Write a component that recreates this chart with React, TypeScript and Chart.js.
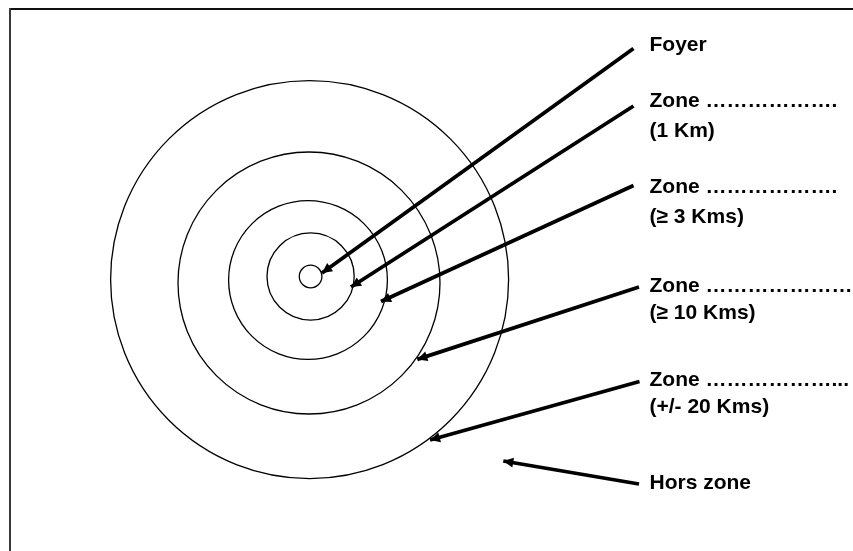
import React, { useEffect, useRef } from "react";
import { Chart, registerables } from "chart.js";

Chart.register(...registerables);

// Diagram units: origin at the centre of the target, y pointing up.
const ringRadii = [11.3, 43.6, 79.4, 131, 199];
const ringCenterX = [0.6, 0.6, -2, -1, -0.4];
const ringCenterY = [1.5, 1.5, -2, -5, -1.6];

const zoneLabels = [
  "Foyer",
  "Zone \u2026\u2026\u2026\u2026\u2026\u2026.",
  "Zone \u2026\u2026\u2026\u2026\u2026\u2026.",
  "Zone \u2026\u2026\u2026\u2026\u2026\u2026\u2026",
  "Zone \u2026\u2026\u2026\u2026\u2026\u2026...",
  "Hors zone",
];
const zoneSubLabels = ["", "(1 Km)", "(\u2265 3 Kms)", "(\u2265 10 Kms)", "(+/- 20 Kms)", ""];

const arrowFromX = [323.5, 323.5, 323.5, 329, 329.5, 329];
const arrowFromY = [229.5, 172, 92.5, -9, -103.5, -206];
const arrowToX = [12, 41, 71, 107.3, 120, 193.3];
const arrowToY = [5, -9, -23.6, -81.4, -162, -183];

const labelX = 339.5;
const labelY = [227, 170.7, 85.3, -14.3, -108, -211];
const subLabelY = [0, 141.3, 55.4, -41.3, -135.3, 0];

const X_MIN = -310;
const X_MAX = 543;
const Y_MIN = -273;
const Y_MAX = 278;

const FONT = 'bold 21px "Liberation Sans", Arial, sans-serif';

const framePlugin = {
  id: "frame",
  beforeDraw(chart: any) {
    const { ctx, width, height } = chart;
    ctx.save();
    ctx.fillStyle = "#ffffff";
    ctx.fillRect(0, 0, width, height);
    ctx.fillStyle = "#111111";
    ctx.fillRect(9, 8, width - 9, 2);
    ctx.fillStyle = "#3a3a3a";
    ctx.fillRect(9, 8, 2, height - 8);
    ctx.restore();
  },
};

const arrowHeadPlugin = {
  id: "arrowHeads",
  afterDatasetsDraw(chart: any) {
    const { ctx } = chart;
    ctx.save();
    chart.data.datasets.forEach((ds: any, i: number) => {
      if (!ds.isArrow) return;
      const meta = chart.getDatasetMeta(i);
      const p0 = meta.data[0];
      const p1 = meta.data[1];
      const ang = Math.atan2(p1.y - p0.y, p1.x - p0.x);
      const len = 10;
      const half = 5;
      ctx.fillStyle = "#000";
      ctx.beginPath();
      ctx.moveTo(p1.x, p1.y);
      ctx.lineTo(
        p1.x - len * Math.cos(ang) + half * Math.sin(ang),
        p1.y - len * Math.sin(ang) - half * Math.cos(ang)
      );
      ctx.lineTo(
        p1.x - len * Math.cos(ang) - half * Math.sin(ang),
        p1.y - len * Math.sin(ang) + half * Math.cos(ang)
      );
      ctx.closePath();
      ctx.fill();
    });
    ctx.restore();
  },
};

const labelPlugin = {
  id: "zoneLabels",
  afterDraw(chart: any) {
    const { ctx } = chart;
    const xs = chart.scales.x;
    const ys = chart.scales.y;
    ctx.save();
    ctx.font = FONT;
    ctx.fillStyle = "#000";
    ctx.textBaseline = "alphabetic";
    ctx.textAlign = "left";
    const x = xs.getPixelForValue(labelX);
    zoneLabels.forEach((t, i) => {
      ctx.fillText(t, x, ys.getPixelForValue(labelY[i]));
      if (zoneSubLabels[i]) {
        ctx.fillText(zoneSubLabels[i], x, ys.getPixelForValue(subLabelY[i]));
      }
    });
    ctx.restore();
  },
};

export default function App() {
  const ref = useRef<HTMLCanvasElement | null>(null);

  useEffect(() => {
    if (!ref.current) return;
    const ringRadiusPx = (c: any) => {
      const s = c.chart.scales.x;
      return s.getPixelForValue(ringRadii[c.dataIndex]) - s.getPixelForValue(0);
    };
    const ringDataset: any = {
      type: "scatter",
      data: ringRadii.map((_, i) => ({ x: ringCenterX[i], y: ringCenterY[i] })),
      pointStyle: "circle",
      pointBackgroundColor: "rgba(0,0,0,0)",
      pointBorderColor: "#000",
      pointBorderWidth: 1.3,
      pointRadius: ringRadiusPx,
      pointHoverRadius: ringRadiusPx,
      showLine: false,
      clip: false,
    };
    const arrowDatasets: any[] = arrowFromX.map((_, i) => ({
      type: "line",
      isArrow: true,
      data: [
        { x: arrowFromX[i], y: arrowFromY[i] },
        { x: arrowToX[i], y: arrowToY[i] },
      ],
      borderColor: "#000",
      borderWidth: 3.8,
      borderCapStyle: "butt",
      pointRadius: 0,
      pointHoverRadius: 0,
      fill: false,
      tension: 0,
      clip: false,
    }));

    const chart = new Chart(ref.current, {
      type: "scatter",
      data: { datasets: [ringDataset, ...arrowDatasets] },
      options: {
        animation: false,
        responsive: false,
        devicePixelRatio: 1,
        events: [],
        layout: { padding: 0 },
        plugins: {
          legend: { display: false },
          tooltip: { enabled: false },
          title: { display: false },
        },
        scales: {
          x: { type: "linear", min: X_MIN, max: X_MAX, display: false },
          y: { type: "linear", min: Y_MIN, max: Y_MAX, display: false },
        },
      },
      plugins: [framePlugin, arrowHeadPlugin, labelPlugin],
    } as any);

    return () => chart.destroy();
  }, []);

  return (
    <canvas
      ref={ref}
      width={853}
      height={551}
      style={{ position: "absolute", left: 0, top: 0, width: 853, height: 551, display: "block" }}
    />
  );
}
